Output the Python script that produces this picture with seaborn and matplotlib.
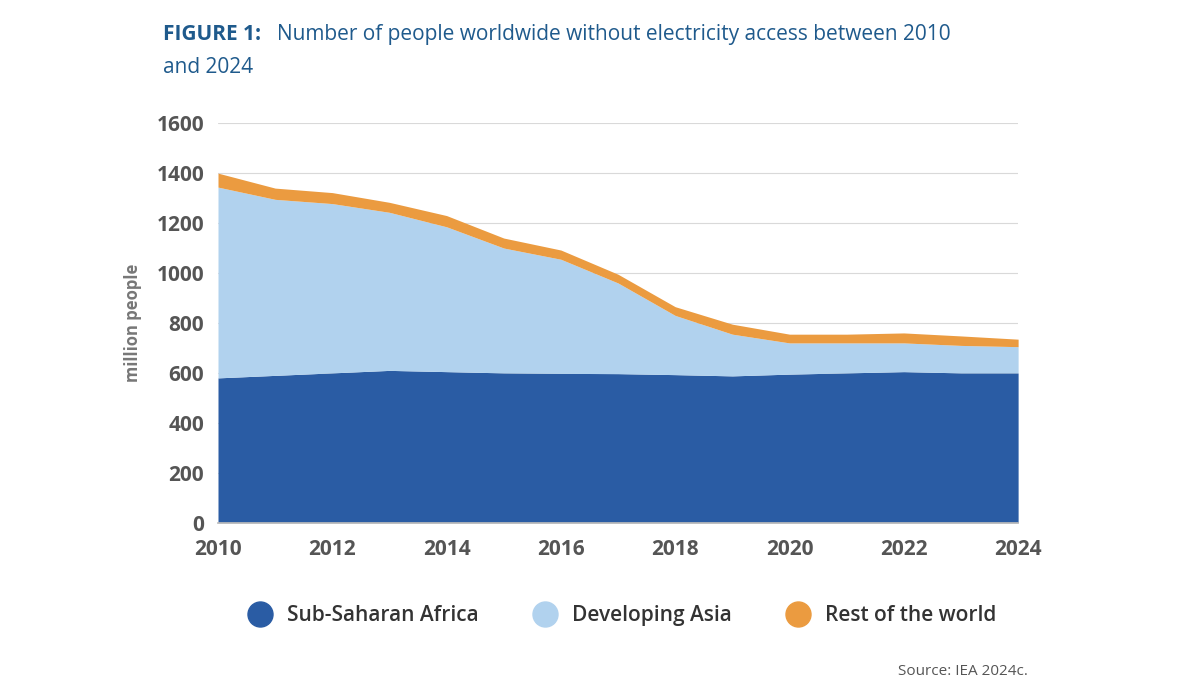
import numpy as np
import matplotlib
matplotlib.use("Agg")
import matplotlib.pyplot as plt
from matplotlib.lines import Line2D
import seaborn as sns

years = list(range(2010, 2025))
ssa = [580, 590, 600, 610, 605, 600, 598, 597, 593, 588, 595, 600, 605, 600, 600]
asia = [764, 705, 678, 633, 580, 500, 457, 363, 237, 167, 125, 120, 115, 110, 105]
rest = [56, 45, 44, 40, 45, 40, 37, 35, 35, 40, 35, 35, 40, 38, 30]

labels = ["Sub-Saharan Africa", "Developing Asia", "Rest of the world"]
colors = ["#2a5ca4", "#b1d2ee", "#eb9b40"]

sns.set_theme(style="white")
plt.rcParams['font.family'] = ['Open Sans', 'DejaVu Sans']

fig = plt.figure(figsize=(11.88, 6.96), dpi=100)
ax = fig.add_axes([0.1835, 0.249, 0.6735, 0.574])
ax.stackplot(years, ssa, asia, rest, colors=colors, linewidth=0)
ax.set_xlim(2010, 2024)
ax.set_ylim(0, 1600)
ax.set_yticks(range(0, 1601, 200))
ax.set_xticks(range(2010, 2025, 2))
ax.yaxis.grid(True, color="#d9d9d9", linewidth=0.8)
ax.set_axisbelow(True)
for s in ["top", "right", "left"]:
    ax.spines[s].set_visible(False)
ax.spines["bottom"].set_color("#bbbbbb")
ax.tick_params(axis="y", labelsize=15, colors="#555555", length=0, pad=10)
ax.tick_params(axis="x", labelsize=15, colors="#555555", length=0, pad=12)
for t in ax.get_xticklabels() + ax.get_yticklabels():
    t.set_fontweight("bold")
ax.set_ylabel("million people", fontsize=12, color="#777777", fontweight="bold", labelpad=10)

handles = [Line2D([], [], marker="o", linestyle="", markersize=18, color=c) for c in colors]
fig.legend(handles, labels, loc="center", bbox_to_anchor=(0.52, 0.115), ncol=3,
           frameon=False, fontsize=15, handletextpad=0.3, columnspacing=2.2,
           labelcolor="#333333", prop={"weight": "semibold", "size": 15})

fig.text(0.137, 0.965, "FIGURE 1:", fontsize=15, fontweight="bold", color="#1f5a8c", va="top")
fig.text(0.233, 0.965, "Number of people worldwide without electricity access between 2010",
         fontsize=15, color="#1f5a8c", va="top")
fig.text(0.137, 0.918, "and 2024", fontsize=15, color="#1f5a8c", va="top")
fig.text(0.865, 0.03, "Source: IEA 2024c.", fontsize=11, color="#555555", ha="right")

fig.savefig("out.png", dpi=100, facecolor="white")
